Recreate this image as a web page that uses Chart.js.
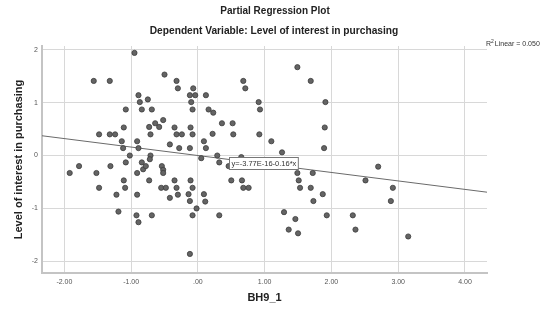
<!DOCTYPE html>
<html>
<head>
<meta charset="utf-8">
<title>Partial Regression Plot</title>
<script src="https://cdn.jsdelivr.net/npm/chart.js@4.4.0/dist/chart.umd.min.js"></script>
<style>
  html, body { margin: 0; padding: 0; background: #fff; }
  #wrap { width: 552px; height: 325px; }
</style>
</head>
<body>
<div id="wrap"><canvas id="chart" width="552" height="325"></canvas></div>
<script>
// --- data (BH9_1 residual vs. interest residual) ---
const xVals = [
  -0.95, -1.56, -1.32, -0.50, -0.32, -0.30, -0.07, -0.89, -0.12, -0.04,
   0.12, -0.87, -0.75, -0.10, -1.08, -0.84, -0.69, -0.08,  0.16, -0.52,
  -0.64, -0.58, -0.73, -1.11, -0.35, -0.11, -1.48, -1.32, -1.24, -0.71,
  -0.32, -0.24, -0.08, -1.14, -0.91,  0.09, -0.42, -1.12, -0.89, -0.28,
  -0.12,  0.12, -1.02, -0.71,  0.05,  1.49,  1.69,  0.68,  0.71,  0.91,
   1.91,  0.23,  0.93,  0.36,  0.52,  1.90,  0.22,  0.53,  0.92,  1.10,
   1.26,  1.89,  0.29,  0.65,  0.32,  0.46,  1.49,  1.72,  1.51,  0.50,
   0.66,  0.68,  0.76,  1.53,  1.69,  1.87,  1.73, -0.11, -0.08, -0.14,
   0.09, -0.12,  0.11, -0.02, -0.08,  0.32,  1.29,  1.46,  1.36,  1.50,
   1.93,  2.32,  2.36, -0.12,  2.70,  2.51,  2.92,  2.89,  3.15, -1.92,
  -1.78, -1.52, -1.48, -1.31, -1.22, -1.19, -1.11, -1.09, -1.08, -0.91,
  -0.91, -0.92, -0.89, -0.84, -0.82, -0.78, -0.72, -0.73, -0.69, -0.55,
  -0.54, -0.52, -0.52, -0.48, -0.42, -0.35, -0.32, -0.30
];
const yVals = [
   1.94,  1.41,  1.41,  1.53,  1.41,  1.27,  1.27,  1.14,  1.14,  1.14,
   1.14,  1.01,  1.06,  1.01,  0.87,  0.87,  0.87,  0.87,  0.87,  0.67,
   0.61,  0.54,  0.54,  0.53,  0.53,  0.53,  0.40,  0.40,  0.40,  0.40,
   0.40,  0.40,  0.40,  0.27,  0.27,  0.27,  0.21,  0.14,  0.14,  0.14,
   0.14,  0.14,  0.00,  0.00, -0.05,  1.67,  1.41,  1.41,  1.27,  1.01,
   1.01,  0.81,  0.87,  0.61,  0.61,  0.53,  0.41,  0.40,  0.40,  0.27,
   0.06,  0.14,  0.00, -0.03, -0.13, -0.20, -0.33, -0.33, -0.47, -0.47,
  -0.47, -0.61, -0.61, -0.61, -0.61, -0.73, -0.86, -0.47, -0.61, -0.73,
  -0.73, -0.86, -0.87, -1.00, -1.13, -1.13, -1.07, -1.20, -1.40, -1.47,
  -1.13, -1.13, -1.40, -1.86, -0.21, -0.47, -0.61, -0.86, -1.53, -0.33,
  -0.20, -0.33, -0.61, -0.20, -0.74, -1.06, -0.47, -0.61, -0.13, -0.33,
  -0.74, -1.13, -1.26, -0.13, -0.26, -0.20, -0.07, -0.47, -1.13, -0.61,
  -0.20, -0.27, -0.33, -0.61, -0.80, -0.47, -0.61, -0.74
];

const xTicks = [-2, -1, 0, 1, 2, 3, 4];
const xTickLabels = ["-2.00", "-1.00", ".00", "1.00", "2.00", "3.00", "4.00"];
const yTicks = [-2, -1, 0, 1, 2];
const yTickLabels = ["-2", "-1", "0", "1", "2"];

// fit line: y = -3.77E-16 - 0.16*x, R2 = 0.050
const fitIntercept = -3.77e-16;
const fitSlope = -0.16;
const fitLabel = "y=-3.77E-16-0.16*x";
const fitLabelAt = [0.47, -0.03];
const r2Value = "0.050";

const xRange = [-2.335, 4.33];
const yRange = [-2.22, 2.07];

const FONT = '"Liberation Sans", Arial, sans-serif';

// -----------------------------------------------------
// titles, axis titles and annotations
// -----------------------------------------------------
const textPlugin = {
  id: "spssText",
  afterDraw(chart) {
    const ctx = chart.ctx;
    const area = chart.chartArea;
    const xs = chart.scales.x;
    const ys = chart.scales.y;
    const midX = (area.left + area.right) / 2;
    ctx.save();
    ctx.fillStyle = "#222";
    ctx.textAlign = "center";
    ctx.textBaseline = "middle";

    ctx.font = "bold 10px " + FONT;
    ctx.fillText("Partial Regression Plot", 275, 11);
    ctx.font = "bold 10.2px " + FONT;
    ctx.fillText("Dependent Variable: Level of interest in purchasing", 274, 31);

    // axis titles
    ctx.font = "bold 11px " + FONT;
    ctx.fillText("BH9_1", midX, 298);
    ctx.save();
    ctx.translate(19, (area.top + area.bottom) / 2);
    ctx.rotate(-Math.PI / 2);
    ctx.fillText("Level of interest in purchasing", 0, 0);
    ctx.restore();

    // R2 label
    ctx.textAlign = "left";
    ctx.font = "7px " + FONT;
    ctx.fillStyle = "#333";
    let rx = 486;
    ctx.fillText("R", rx, 44);
    rx += ctx.measureText("R").width;
    ctx.font = "5px " + FONT;
    ctx.fillText("2", rx, 41.5);
    rx += ctx.measureText("2").width + 1;
    ctx.font = "7px " + FONT;
    ctx.fillText("Linear = " + r2Value, rx, 44);

    // fit equation box
    ctx.font = "7.5px " + FONT;
    const bx = Math.round(xs.getPixelForValue(fitLabelAt[0])) + 0.5;
    const by = Math.round(ys.getPixelForValue(fitLabelAt[1])) + 0.5;
    const bw = ctx.measureText(fitLabel).width + 4;
    ctx.fillStyle = "#fff";
    ctx.fillRect(bx, by, bw, 12);
    ctx.strokeStyle = "#777";
    ctx.lineWidth = 1;
    ctx.strokeRect(bx, by, bw, 12);
    ctx.fillStyle = "#333";
    ctx.fillText(fitLabel, bx + 2, by + 6.5);
    ctx.restore();
  }
};

const puntos = xVals.map((x, i) => ({ x, y: yVals[i] }));
const linea = xRange.map((x) => ({ x, y: fitIntercept + fitSlope * x }));

new Chart(document.getElementById("chart"), {
  type: "scatter",
  data: {
    datasets: [
      {
        label: "cases",
        data: puntos,
        backgroundColor: "#646464",
        borderColor: "#3c3c3c",
        borderWidth: 0.8,
        pointRadius: 2.6,
        order: 0
      },
      {
        label: "fit",
        type: "line",
        data: linea,
        borderColor: "#6a6a6a",
        borderWidth: 1,
        pointRadius: 0,
        fill: false,
        order: 1
      }
    ]
  },
  options: {
    responsive: false,
    animation: false,
    devicePixelRatio: 1,
    layout: { padding: { left: 28, right: 65, top: 46, bottom: 36 } },
    plugins: {
      legend: { display: false },
      tooltip: { enabled: false }
    },
    scales: {
      x: {
        type: "linear",
        min: xRange[0],
        max: xRange[1],
        afterFit: (s) => { s.height = 16; },
        afterBuildTicks: (s) => { s.ticks = xTicks.map((v) => ({ value: v })); },
        grid: { color: "#d8d8d8", lineWidth: 1, drawTicks: false },
        border: { color: "#c4c4c4", width: 2 },
        ticks: {
          padding: 5,
          color: "#555",
          font: { family: FONT, size: 7 },
          callback: (v) => xTickLabels[xTicks.indexOf(v)]
        }
      },
      y: {
        type: "linear",
        min: yRange[0],
        max: yRange[1],
        afterFit: (s) => { s.width = 14; },
        afterBuildTicks: (s) => { s.ticks = yTicks.map((v) => ({ value: v })); },
        grid: { color: "#d8d8d8", lineWidth: 1, drawTicks: false },
        border: { color: "#c4c4c4", width: 2 },
        ticks: {
          padding: 4,
          color: "#555",
          font: { family: FONT, size: 7 },
          callback: (v) => yTickLabels[yTicks.indexOf(v)]
        }
      }
    }
  },
  plugins: [textPlugin]
});
</script>
</body>
</html>
